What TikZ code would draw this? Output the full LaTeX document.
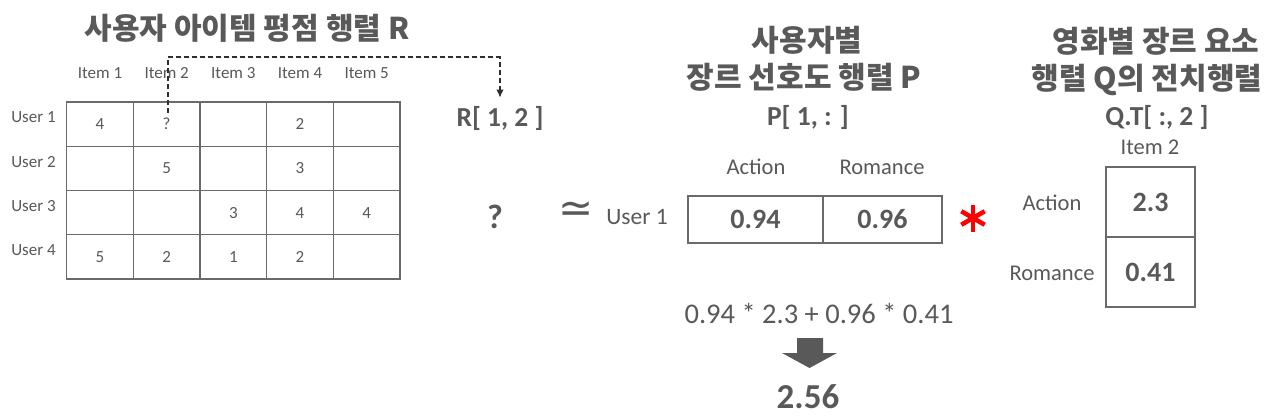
\documentclass[tikz,border=0pt]{standalone}
\usepackage{fontspec}
\setmainfont{Carlito}
\newfontfamily\kr{Noto Sans CJK KR}
\newfontfamily\dv{DejaVu Sans}
\usetikzlibrary{arrows.meta,calc}
\definecolor{txt}{HTML}{595959}
\definecolor{gridc}{HTML}{6A6A6A}
\definecolor{dashc}{HTML}{2E2E2E}
\definecolor{starc}{HTML}{FF0000}
\begin{document}
\begin{tikzpicture}[x=1pt,y=-1pt,
  titlek/.style={font=\kr\bfseries\fontsize{30}{35}\selectfont, text=txt, inner sep=0pt},
  idx/.style={font=\bfseries\fontsize{27.5}{32}\selectfont, text=txt, inner sep=0pt},
  smalllab/.style={font=\fontsize{17}{20}\selectfont, text=txt, inner sep=0pt},
  cell/.style={draw=gridc, line width=1.4pt, minimum width=66.67pt, minimum height=44.25pt, inner sep=0pt, font=\fontsize{17}{20}\selectfont, text=txt},
  lab/.style={font=\fontsize{22.5}{27}\selectfont, text=txt, inner sep=0pt},
  val/.style={draw=gridc, line width=1.4pt, inner sep=0pt, font=\bfseries\fontsize{28}{32}\selectfont, text=txt},
  dashconn/.style={draw=dashc, line width=2pt, dash pattern=on 5pt off 3pt, -{Latex[length=8pt,width=7.5pt]}},
]
\fill[white] (0,0) rectangle (1274,418);
\useasboundingbox (0,0) rectangle (1274,418);

% ---- left: rating matrix R
\node[titlek] (tR) at (247,28) {사용자 아이템 평점 행렬 R};
\foreach \i in {1,...,5} \node[smalllab] (it\i) at ({66.67*\i+33.33},73) {Item \i};
\foreach \v [count=\i] in {4,?,{},2,{}} \node[cell] (c1\i) at ({66.67*\i+33.33},124.1) {\v};
\foreach \v [count=\i] in {{},5,{},3,{}} \node[cell] (c2\i) at ({66.67*\i+33.33},168.4) {\v};
\foreach \v [count=\i] in {{},{},3,4,4} \node[cell] (c3\i) at ({66.67*\i+33.33},212.6) {\v};
\foreach \v [count=\i] in {5,2,1,2,{}} \node[cell] (c4\i) at ({66.67*\i+33.33},256.9) {\v};
\node[smalllab] (u1) at (33.5,117.5) {User 1};
\node[smalllab] (u2) at (33.5,162) {User 2};
\node[smalllab] (u3) at (33.5,206.5) {User 3};
\node[smalllab] (u4) at (33.5,250.5) {User 4};

\node[idx] (R12) at (500,118) {R[ 1, 2 ]};
\coordinate (dtop) at (0,57.3);
\coordinate (dstart) at ($(c12.center)+(1.6,-11)$);
\coordinate (dend) at ($(R12.north)+(0,-8)$);
\draw[dashconn] (dstart) -- (dstart |- dtop) -| (dend);

\node[font=\bfseries\fontsize{34}{38}\selectfont, text=txt, inner sep=0pt] (qm) at (495,217) {?};
\node[font=\dv\fontsize{42}{46}\selectfont, text=txt, inner sep=0pt] (approx) at (576,212) {≃};

% ---- middle: P
\node[titlek] (tP1) at (807,40) {사용자별};
\node[titlek] (tP2) at (804,77.5) {장르 선호도 행렬 P};
\node[idx] (Pidx) at (808,117) {P[ 1, : ]};
\node[lab] (pa) at (756,167) {Action};
\node[lab] (pr) at (882,167) {Romance};
\node[font=\fontsize{23.5}{28}\selectfont, text=txt, inner sep=0pt] (pu) at (637,217) {User 1};
\node[val, minimum width=135pt, minimum height=47pt] (p1) at (755.5,219.5) {0.94};
\node[val, minimum width=119pt, minimum height=47pt] (p2) at (882.5,219.5) {0.96};

% star
\foreach \a in {90,30,150}
  \draw[starc, line width=4.5pt] (973,218) +(\a:13.5) -- +(\a+180:13.5);

% ---- right: Q.T
\node[titlek] (tQ1) at (1156,41.5) {영화별 장르 요소};
\node[titlek] (tQ2) at (1147,80) {행렬 Q의 전치행렬};
\node[idx] (Qidx) at (1157,117.5) {Q.T[ :, 2 ]};
\node[lab] (qi) at (1150,147) {Item 2};
\node[val, minimum width=89pt, minimum height=70pt] (q1) at (1150.5,202) {2.3};
\node[val, minimum width=89pt, minimum height=70pt] (q2) at (1150.5,272) {0.41};
\node[lab] (qa) at (1052,203) {Action};
\node[lab] (qr) at (1052,273) {Romance};

% ---- bottom: computation
\node[font=\fontsize{28.5}{33}\selectfont, text=txt, inner sep=0pt] (formula) at (819,313) {0.94 * 2.3 + 0.96 * 0.41};
\fill[txt] (797,338) -- (823,338) -- (823,353) -- (837,353) -- (809.5,368) -- (782,353) -- (797,353) -- cycle;
\node[font=\bfseries\fontsize{35}{40}\selectfont, text=txt, inner sep=0pt] (res) at (808,397) {2.56};
\end{tikzpicture}
\end{document}
